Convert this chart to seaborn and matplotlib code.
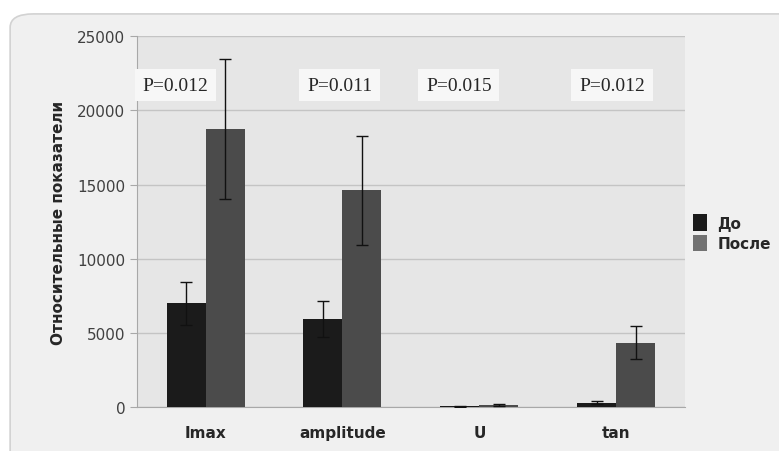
import pandas as pd
import numpy as np
import seaborn as sns
import matplotlib.pyplot as plt
from matplotlib.patches import FancyBboxPatch

categories = ["Imax", "amplitude", "U", "tan"]
groups = ["До", "После"]
before = [7000, 5950, 50, 300]
after = [18750, 14600, 150, 4350]
before_err = [1450, 1200, 30, 100]
after_err = [4700, 3650, 80, 1100]
p_labels = ["P=0.012", "P=0.011", "P=0.015", "P=0.012"]
p_x = [-0.22, 0.98, 1.85, 2.97]

df = pd.DataFrame({
    "cat": categories * 2,
    "grp": [groups[0]] * 4 + [groups[1]] * 4,
    "val": before + after,
})

sns.set_style("white")
plt.rcParams["font.family"] = ["DejaVu Sans"]

fig = plt.figure(figsize=(7.79, 4.52), dpi=100, facecolor="white")
fig.patches.append(FancyBboxPatch((0.013, -0.05), 1.05, 1.017,
                                  boxstyle="round,pad=0,rounding_size=0.03",
                                  transform=fig.transFigure, facecolor="#f0f0f0",
                                  edgecolor="#d2d2d2", linewidth=1.2, zorder=-10))
ax = fig.add_axes([0.176, 0.097, 0.703, 0.821])
ax.set_facecolor("#e6e6e6")

sns.barplot(data=df, x="cat", y="val", hue="grp", order=categories, hue_order=groups,
            palette=["#1b1b1b", "#4b4b4b"], width=0.57, saturation=1, errorbar=None,
            linewidth=0, edgecolor="none", ax=ax, zorder=3)

errs = [before_err, after_err]
for cont, err in zip(ax.containers, errs):
    xs = [b.get_x() + b.get_width() / 2 for b in cont]
    ys = [b.get_height() for b in cont]
    ax.errorbar(xs, ys, yerr=err, fmt="none", ecolor="#111111", elinewidth=1,
                capsize=4, capthick=1, zorder=4)

for x, t in zip(p_x, p_labels):
    ax.text(x, 21700, t, ha="center", va="center", fontsize=14, family="Liberation Serif",
            zorder=5, bbox=dict(boxstyle="square,pad=0.4", facecolor="#f7f7f7", edgecolor="none"))

ax.set_ylim(0, 25000)
ax.set_xlim(-0.5, 3.5)
ax.set_yticks(range(0, 25001, 5000))
ax.yaxis.grid(True, color="#c4c4c4", linewidth=1, zorder=0)
ax.set_axisbelow(True)
for s in ["top", "right"]:
    ax.spines[s].set_visible(False)
for s in ["left", "bottom"]:
    ax.spines[s].set_color("#a8a8a8")
ax.tick_params(axis="y", left=True, length=5, color="#a8a8a8", labelsize=11, labelcolor="#404040")
ax.tick_params(axis="x", bottom=False, labelsize=11, pad=9)
for lab in ax.get_xticklabels():
    lab.set_fontweight("bold")
ax.set_xlabel("")
ax.set_ylabel("Относительные показатели", fontsize=11, fontweight="bold", labelpad=8)

leg = ax.legend(loc="center left", bbox_to_anchor=(0.99, 0.47), frameon=False,
                prop={"weight": "bold", "size": 11}, handlelength=0.9, handleheight=1.3,
                handletextpad=0.7, labelspacing=0.25)
leg.legend_handles[1].set_facecolor("#727272")

fig.savefig("out.png", dpi=100, facecolor=fig.get_facecolor())
